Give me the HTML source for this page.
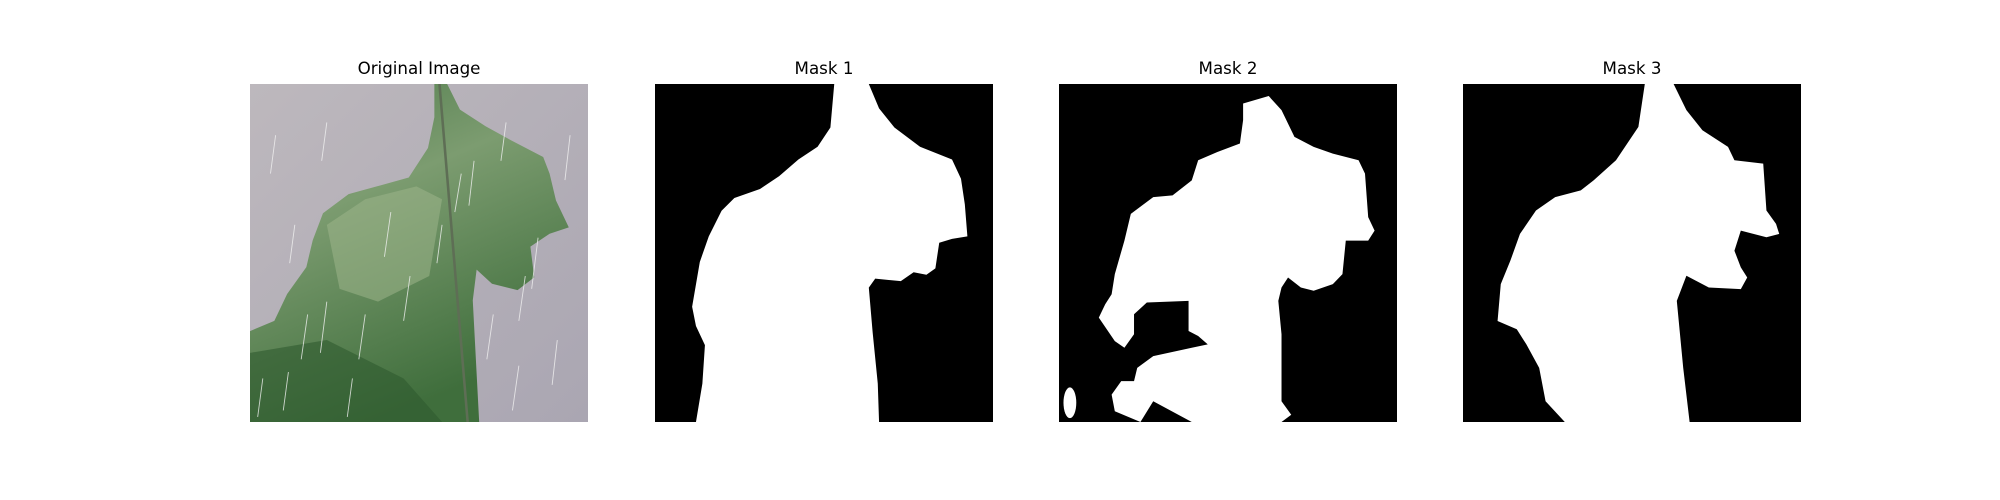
<!DOCTYPE html>
<html><head><meta charset="utf-8">
<style>
html,body{margin:0;padding:0;background:#fff;}
body{width:2000px;height:500px;position:relative;overflow:hidden;font-family:"DejaVu Sans","Liberation Sans",sans-serif;}
.title{position:absolute;top:58px;width:338px;text-align:center;font-size:16.7px;color:#000;}
.panel{position:absolute;top:84px;width:338px;height:338px;}
</style></head>
<body>
<div class="title" style="left:250px">Original Image</div>
<div class="title" style="left:655px">Mask 1</div>
<div class="title" style="left:1059px">Mask 2</div>
<div class="title" style="left:1463px">Mask 3</div>

<svg class="panel" style="left:250px" viewBox="0 0 264 264" preserveAspectRatio="none">
<defs>
<linearGradient id="bg" x1="0" y1="0" x2="1" y2="1"><stop offset="0" stop-color="#bdb8bd"/><stop offset="1" stop-color="#aaa6b2"/></linearGradient>
<linearGradient id="lf" x1="0" y1="0" x2="0.4" y2="1"><stop offset="0" stop-color="#4e7a4a"/><stop offset="0.4" stop-color="#7c9c70"/><stop offset="1" stop-color="#3f6e3c"/></linearGradient>
</defs>
<rect width="264" height="264" fill="url(#bg)"/>
<polygon fill="url(#lf)" points="144,0 154,0 164,20 184,33 204,44 229,57 234,70 239,91 249,112 234,117 219,127 222,151 209,161 189,156 177,145 174,169 179,264 0,264 0,193 19,185 29,164 44,143 49,122 57,101 77,86 99,80 124,73 139,50 144,26"/>
<polygon fill="#9db58a" opacity="0.55" points="60,110 90,90 130,80 150,90 140,150 100,170 70,160"/>
<polygon fill="#2f5a2e" opacity="0.6" points="0,210 60,200 120,230 150,264 0,264"/>
<line x1="148" y1="0" x2="170" y2="264" stroke="#5e6e55" stroke-width="2"/>
<g stroke="#f2f2f2" stroke-width="0.7" opacity="0.8">
<line x1="20" y1="40" x2="16" y2="70"/><line x1="60" y1="30" x2="56" y2="60"/><line x1="110" y1="100" x2="105" y2="135"/>
<line x1="125" y1="150" x2="120" y2="185"/><line x1="165" y1="70" x2="160" y2="100"/><line x1="175" y1="60" x2="171" y2="95"/>
<line x1="200" y1="30" x2="196" y2="60"/><line x1="225" y1="120" x2="220" y2="160"/><line x1="215" y1="150" x2="210" y2="185"/>
<line x1="60" y1="170" x2="55" y2="210"/><line x1="45" y1="180" x2="40" y2="215"/><line x1="90" y1="180" x2="85" y2="215"/>
<line x1="10" y1="230" x2="6" y2="260"/><line x1="30" y1="225" x2="26" y2="255"/><line x1="210" y1="220" x2="205" y2="255"/>
<line x1="240" y1="200" x2="236" y2="235"/><line x1="80" y1="230" x2="76" y2="260"/><line x1="150" y1="110" x2="146" y2="140"/>
<line x1="250" y1="40" x2="246" y2="75"/><line x1="35" y1="110" x2="31" y2="140"/><line x1="190" y1="180" x2="185" y2="215"/>
</g>
</svg>

<svg class="panel" style="left:655px" viewBox="0 0 264 264" preserveAspectRatio="none">
<rect width="264" height="264" fill="#000"/>
<polygon fill="#fff" points="140,0 167,0 175,19 187,34 207,49 232,59 239,74 242,94 244,119 232,121 222,124 219,144 212,149 202,147 192,154 172,152 167,159 170,194 174,234 175,264 32,264 37,234 39,204 32,189 29,174 35,139 42,119 52,99 62,89 82,82 97,72 112,59 127,49 137,34"/>
<ellipse cx="137" cy="144" rx="2" ry="3" fill="#fff"/>
</svg>

<svg class="panel" style="left:1059px" viewBox="0 0 264 264" preserveAspectRatio="none">
<rect width="264" height="264" fill="#000"/>
<polygon fill="#fff" points="143.8,15.2 163.8,9.4 173.8,20.4 183.9,41.3 198.9,49.1 213.9,54.4 234,59.6 239,70 241.5,104 246.5,114.5 241.5,122.3 224,122.3 221.4,148.5 213.9,156.3 198.9,161.5 188.9,158.9 178.9,151.1 173.8,158.9 171.3,169.4 173.8,195.5 173.8,247.8 181.4,258.3 173.8,264 103.7,264 73.6,247.8 63.6,264 43.6,255.6 41.1,242.6 48.6,232.1 58.6,232.1 61.1,221.7 73.6,212.5 103.7,206 116.2,203.4 108.7,196.8 101.2,192.9 101.2,169.4 68.6,170.7 58.6,179.8 58.6,195.5 51.1,206 43.6,200.8 31.1,182.5 36.1,172 41.1,164.2 43.6,148.5 51.1,122.3 56.1,101.4 73.6,88.4 88.7,87 103.7,75.3 108.7,59.6 123.7,53.1 141.3,46.5 143.8,28.2"/>
<ellipse cx="8.5" cy="249" rx="5" ry="12" fill="#fff"/>
</svg>

<svg class="panel" style="left:1463px" viewBox="0 0 264 264" preserveAspectRatio="none">
<rect width="264" height="264" fill="#000"/>
<polygon fill="#fff" points="142,0 164.5,0 174.5,20.4 187,36.1 207,49.1 212,59.6 234.5,62.2 237,98.8 244.5,109.3 247,117.1 237,119.7 217,114.5 212,130.2 217,143.2 222,151.1 217,160.2 192,158.9 174.5,149.8 167,169.4 172,221.7 177,264 79.5,264 64.5,247.8 59.5,221.7 49.5,203.4 42,191.6 27,185.1 29.5,156.3 37,138 44.5,117.1 57,98.8 72,88.4 92,83.1 102,75.3 119.5,59.6 137,33.5"/>
</svg>
</body></html>
